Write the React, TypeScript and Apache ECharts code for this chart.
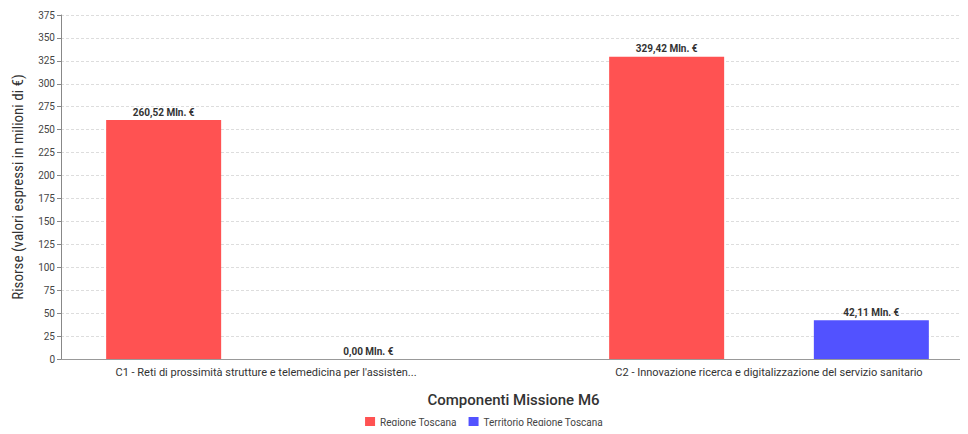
import React, { useEffect, useRef } from "react";
import * as echarts from "echarts";

// Components of mission M6 and the resources assigned to each (millions of €)
const categories = [
  "C1 - Reti di prossimità strutture e telemedicina per l'assistenza sanitaria territoriale",
  "C2 - Innovazione ricerca e digitalizzazione del servizio sanitario",
];
const regioneToscana = [260.52, 329.42];
const territorioRegioneToscana = [0.0, 42.11];
const seriesNames = ["Regione Toscana", "Territorio Regione Toscana"];
const seriesColors = ["#ff5252", "#5252ff"];

const fmtValue = (v: number) => v.toFixed(2).replace(".", ",") + " Mln. €";
const shortLabel = (s: string) => (s.length > 66 ? s.slice(0, 63) + "..." : s);

export default function App() {
  const ref = useRef<HTMLDivElement>(null);

  useEffect(() => {
    if (!ref.current) return;
    const chart = echarts.init(ref.current, null, { renderer: "svg" });
    const font = "Roboto, 'Noto Sans', sans-serif";
    const barLabel = {
      show: true,
      position: "top" as const,
      distance: 3,
      fontSize: 10,
      fontWeight: "bold" as const,
      color: "#333",
      fontFamily: font,
      formatter: (p: any) => fmtValue(p.value),
    };

    chart.setOption({
      animation: false,
      textStyle: { fontFamily: font },
      legend: {
        bottom: 2,
        left: "center",
        icon: "rect",
        itemWidth: 10,
        itemHeight: 10,
        itemGap: 12,
        textStyle: { fontSize: 10, color: "#444", fontFamily: font },
        data: seriesNames,
      },
      grid: [
        // frame with the value axis, gridlines and baseline
        { left: 61, right: 2, top: 15, bottom: 75, outerBoundsMode: "none" },
        // wider band on which the category groups are laid out
        { left: 14.5, width: 1006, top: 15, bottom: 75, outerBoundsMode: "none" },
      ],
      xAxis: [
        {
          type: "category",
          gridIndex: 0,
          data: categories,
          axisLine: { lineStyle: { color: "#999", width: 1 } },
          axisTick: { show: false },
          axisLabel: { show: false },
          name: "Componenti Missione M6",
          nameLocation: "middle",
          nameGap: 33,
          nameTextStyle: { fontSize: 15, fontWeight: 500, color: "#333", fontFamily: font },
        },
        {
          type: "category",
          gridIndex: 1,
          data: categories,
          axisLine: { show: false },
          axisTick: { show: false },
          axisLabel: {
            fontSize: 11,
            color: "#333",
            margin: 8,
            fontFamily: font,
            formatter: shortLabel,
          },
        },
      ],
      yAxis: [
        {
          type: "value",
          gridIndex: 0,
          min: 0,
          max: 375,
          interval: 25,
          axisLine: { show: true, lineStyle: { color: "#888" } },
          axisTick: { show: true, length: 4, lineStyle: { color: "#888" } },
          axisLabel: { fontSize: 10, color: "#444", margin: 6, fontFamily: font },
          splitLine: { lineStyle: { color: "#ddd", type: [3, 2] } },
          name: "Risorse (valori espressi in milioni di €)",
          nameLocation: "middle",
          nameGap: 36,
          nameTextStyle: {
            fontSize: 15,
            color: "#333",
            fontFamily: "'Roboto Condensed', 'Liberation Sans Narrow', 'DejaVu Sans Condensed', Roboto, sans-serif",
          },
        },
        {
          type: "value",
          gridIndex: 1,
          min: 0,
          max: 375,
          interval: 25,
          show: false,
          splitLine: { show: false },
        },
      ],
      series: [
        {
          name: seriesNames[0],
          type: "bar",
          xAxisIndex: 1,
          yAxisIndex: 1,
          data: regioneToscana,
          barWidth: 115,
          barGap: "78%",
          itemStyle: { color: seriesColors[0] },
          label: barLabel,
        },
        {
          name: seriesNames[1],
          type: "bar",
          xAxisIndex: 1,
          yAxisIndex: 1,
          data: territorioRegioneToscana,
          barWidth: 115,
          barGap: "78%",
          itemStyle: { color: seriesColors[1] },
          label: barLabel,
        },
      ],
    });

    return () => chart.dispose();
  }, []);

  return <div ref={ref} style={{ width: 968, height: 434, margin: -8 }} />;
}
